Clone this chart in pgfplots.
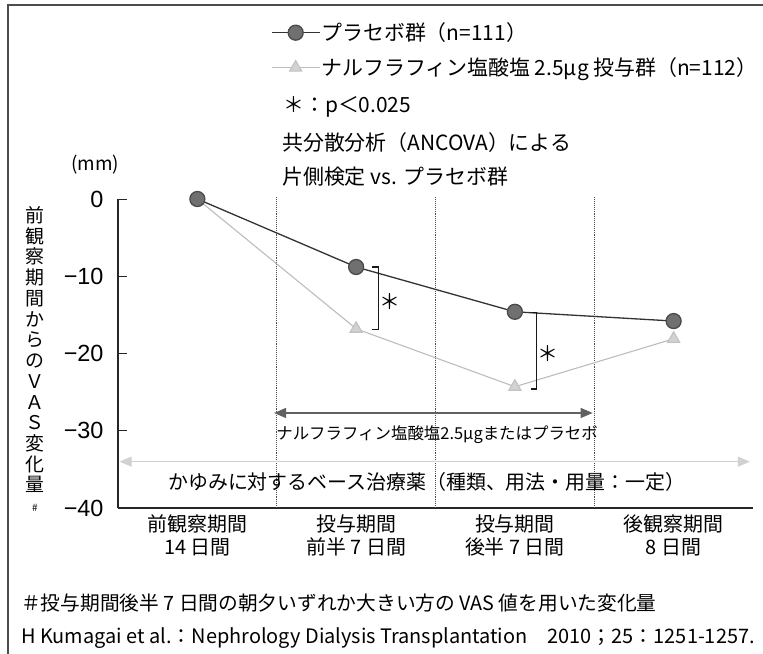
\documentclass[border=0pt]{standalone}
\usepackage{fontspec}
\setmainfont{Noto Sans CJK JP}
\newfontfamily\numfont{Liberation Sans}
\usepackage{pgfplots}
\pgfplotsset{compat=1.18}
\usetikzlibrary{arrows.meta}
\definecolor{plcfill}{HTML}{707070}
\definecolor{plcdraw}{HTML}{4A4A4A}
\definecolor{plcline}{HTML}{333333}
\definecolor{nalfill}{HTML}{D2D2D2}
\definecolor{naldraw}{HTML}{C2C2C2}
\definecolor{nalline}{HTML}{BDBDBD}
\newcommand{\fs}[1]{\fontsize{#1}{#1}\selectfont}
\begin{document}
\begin{tikzpicture}
\useasboundingbox (0,0) rectangle (763bp,-654bp);
\fill[white] (0,0) rectangle (763bp,-654bp);
\draw[line width=1.2bp, black!70] (8bp,-654bp) -- (8bp,-5bp) -- (763bp,-5bp);
\begin{axis}[
  at={(118bp,-508bp)}, anchor=south west,
  scale only axis, width=635bp, height=309bp,
  xmin=-0.5, xmax=3.5, ymin=-40, ymax=0,
  axis x line=bottom, axis y line=left,
  axis line style={-, line width=1.1bp, black!85},
  clip=false,
  xtick={0,1,2,3},
  xticklabels={{前観察期間\\14 日間},{投与期間\\前半 7 日間},{投与期間\\後半 7 日間},{後観察期間\\8 日間}},
  xtick style={draw=none},
  xticklabel style={align=center, font=\fontsize{20}{23.5}\selectfont, yshift=-3bp},
  ytick={-40,-30,-20,-10,0},
  yticklabels={−40,−30,−20,−10,0},
  yticklabel style={font=\numfont\fs{23.5}, xshift=-11bp},
  ytick style={line width=1bp, black!85},
  tick align=inside, major tick length=9bp,
  ylabel={前\\[1.6bp]観\\[1.6bp]察\\[1.6bp]期\\[1.6bp]間\\[1.6bp]か\\[1.6bp]ら\\[1.6bp]の\\[1.6bp]Ｖ\\[1.6bp]Ａ\\[1.6bp]Ｓ\\[1.6bp]変\\[1.6bp]化\\[1.6bp]量\\{\fs{10}\#}},
  ylabel style={rotate=-90, align=center, font=\fontsize{19}{19.2}\selectfont,
    at={(axis description cs:-0.131,0.483)}, anchor=center},
  reverse legend,
  legend style={at={(axis description cs:0.236,1.58)}, anchor=north west,
    draw=none, fill=none, font=\fs{21}, row sep=13.5bp,
    nodes={inner sep=1bp, anchor=west}},
  legend cell align=left,
  legend image code/.code={\draw[mark repeat=2,mark phase=2,#1] plot coordinates {(0bp,0bp) (24bp,0bp) (48bp,0bp)};},
]
% period separators
\draw[densely dotted, line width=1.1bp, black!70] (axis cs:0.5,0.3) -- (axis cs:0.5,-40);
\draw[densely dotted, line width=1.1bp, black!70] (axis cs:1.5,0.3) -- (axis cs:1.5,-40);
\draw[densely dotted, line width=1.1bp, black!70] (axis cs:2.5,0.3) -- (axis cs:2.5,-40);
% treatment arrows
\draw[{Triangle[length=12bp,width=10bp]}-{Triangle[length=12bp,width=10bp]}, line width=1.3bp, black!62]
  (axis cs:0.483,-27.7) -- (axis cs:2.49,-27.7);
\node[font=\fs{16.5}] at (axis cs:1.51,-30.5) {ナルフラフィン塩酸塩2.5μgまたはプラセボ};
\draw[{Triangle[length=12bp,width=10bp]}-{Triangle[length=12bp,width=10bp]}, line width=1.1bp, black!18]
  (axis cs:-0.49,-34.0) -- (axis cs:3.48,-34.0);
\node[font=\fs{20}] at (axis cs:1.445,-36.6) {かゆみに対するベース治療薬（種類、用法・用量：一定）};
% data
\addplot[color=nalline, line width=1.1bp, mark=triangle*, mark size=7bp,
  mark options={fill=nalfill, draw=naldraw, solid}]
  coordinates {(0,0) (1,-16.8) (2,-24.3) (3,-18.1)};
\addlegendentry{ナルフラフィン塩酸塩 2.5μg 投与群（n=112）}
\addplot[color=plcline, line width=1.3bp, mark=*, mark size=7.5bp,
  mark options={fill=plcfill, draw=plcdraw, solid}]
  coordinates {(0,0) (1,-8.8) (2,-14.6) (3,-15.8)};
\addlegendentry{プラセボ群（n=111）}
% significance brackets
\draw[line width=1.2bp, black!90] (axis cs:1.10,-8.8) -- (axis cs:1.143,-8.8) -- (axis cs:1.143,-16.9) -- (axis cs:1.10,-16.9);
\node[font=\fs{21}] at (axis cs:1.21,-13.3) {＊};
\draw[line width=1.2bp, black!90] (axis cs:2.10,-14.7) -- (axis cs:2.135,-14.7) -- (axis cs:2.135,-24.6) -- (axis cs:2.10,-24.6);
\node[font=\fs{21}] at (axis cs:2.21,-20.0) {＊};
\end{axis}
% notes above the plot
\node[anchor=west, font=\fs{21}, inner sep=0pt] at (283bp,-107bp) {＊：p＜0.025};
\node[anchor=west, font=\fs{21}, inner sep=0pt] at (282bp,-143bp) {共分散分析（ANCOVA）による};
\node[anchor=west, font=\fs{21}, inner sep=0pt] at (282bp,-177bp) {片側検定 vs. プラセボ群};
\node[font=\fs{19}, inner sep=0pt] at (95bp,-165bp) {(mm)};
% footnotes
\node[anchor=west, font=\fs{19.8}, inner sep=0pt] at (21bp,-603bp) {＃投与期間後半 7 日間の朝夕いずれか大きい方の VAS 値を用いた変化量};
\node[anchor=west, font=\fs{20}, inner sep=0pt] at (21bp,-638bp) {H Kumagai et al.：Nephrology Dialysis Transplantation　2010；25：1251-1257.};
\end{tikzpicture}
\end{document}
